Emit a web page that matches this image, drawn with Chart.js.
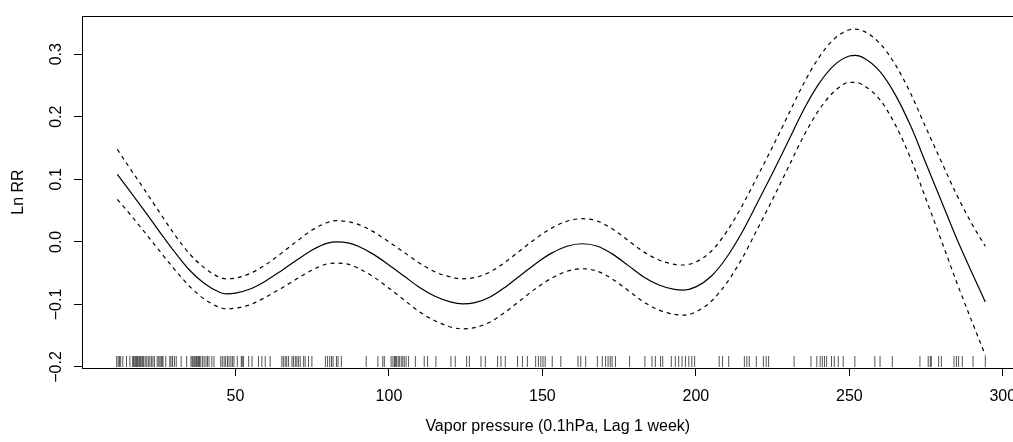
<!DOCTYPE html>
<html><head><meta charset="utf-8">
<script src="https://cdn.jsdelivr.net/npm/chart.js@4.4.1/dist/chart.umd.min.js"></script>
<style>
html,body{margin:0;padding:0;overflow:hidden;background:#fff;width:1013px;height:442px}
#wrap{width:1040px;height:442px}
</style></head>
<body><div id="wrap"><canvas id="c" width="1040" height="442"></canvas></div>
<script>
const xValues = [11.5,15,20,25,30,35,40,45,47,50,55,60,65,70,75,80,83,87,90,95,100,105,110,115,120,124,128,133,138,143,148,153,158,163,168,173,178,183,188,193,196,200,205,210,215,220,225,230,235,240,245,250,252,255,260,265,270,275,280,285,290,294.3];
const fitValues = [0.108,0.085,0.052,0.018,-0.015,-0.045,-0.067,-0.081,-0.083,-0.082,-0.075,-0.062,-0.046,-0.029,-0.013,-0.002,0.000,-0.002,-0.007,-0.020,-0.037,-0.055,-0.073,-0.087,-0.096,-0.099,-0.097,-0.088,-0.072,-0.053,-0.034,-0.018,-0.007,-0.003,-0.007,-0.020,-0.038,-0.056,-0.069,-0.076,-0.077,-0.072,-0.055,-0.025,0.015,0.062,0.110,0.160,0.210,0.252,0.282,0.297,0.298,0.293,0.272,0.235,0.185,0.125,0.065,0.005,-0.050,-0.096];
const upperValues = [0.148,0.122,0.086,0.049,0.013,-0.019,-0.042,-0.057,-0.059,-0.058,-0.050,-0.036,-0.018,0.001,0.019,0.031,0.034,0.032,0.028,0.016,0.000,-0.017,-0.034,-0.048,-0.056,-0.059,-0.057,-0.048,-0.032,-0.013,0.006,0.022,0.033,0.037,0.033,0.020,0.002,-0.016,-0.029,-0.036,-0.037,-0.032,-0.015,0.016,0.057,0.104,0.152,0.202,0.252,0.294,0.324,0.339,0.340,0.336,0.317,0.283,0.237,0.182,0.128,0.075,0.028,-0.007];
const lowerValues = [0.068,0.048,0.018,-0.013,-0.043,-0.071,-0.092,-0.105,-0.107,-0.106,-0.100,-0.088,-0.074,-0.059,-0.045,-0.035,-0.034,-0.036,-0.042,-0.056,-0.074,-0.093,-0.112,-0.126,-0.136,-0.139,-0.137,-0.128,-0.112,-0.093,-0.074,-0.058,-0.047,-0.043,-0.047,-0.060,-0.078,-0.096,-0.109,-0.116,-0.117,-0.112,-0.095,-0.066,-0.027,0.020,0.068,0.118,0.168,0.210,0.240,0.255,0.255,0.249,0.227,0.187,0.133,0.068,0.002,-0.065,-0.128,-0.181];
const rugValues = [11.3,11.8,12.2,12.6,13.3,14.5,15.6,16.5,16.8,17.2,17.5,17.8,18.1,18.5,18.8,19.1,19.5,19.8,20.1,20.6,21.1,21.6,22.1,22.6,23.1,23.6,24.5,25.0,25.4,25.8,26.1,26.4,27.3,28.6,29.0,29.5,30.1,30.7,32.3,34.1,35.5,35.9,36.2,36.6,36.9,37.3,37.7,38.0,38.3,38.7,39.3,39.8,40.4,40.9,41.4,42.3,43.0,45.2,45.7,46.3,46.8,47.4,47.9,48.5,49.0,49.5,50.6,51.9,52.2,52.6,54.3,55.4,57.5,58.6,59.7,61.3,65.1,65.6,66.2,66.7,67.3,68.4,68.9,69.5,70.0,70.5,71.1,72.2,72.7,73.8,74.9,79.3,80.0,80.7,81.3,81.8,82.9,83.4,84.5,92.6,96.4,98.0,98.5,100.7,101.3,101.8,102.1,102.5,103.0,103.4,104.0,104.5,105.0,105.6,106.4,108.6,111.5,112.6,115.3,120.2,121.6,125.3,126.2,130.0,131.4,135.4,136.5,137.9,141.9,143.5,145.1,147.8,148.7,149.5,150.2,150.9,153.2,156.0,161.6,162.5,164.1,167.9,169.5,170.6,171.4,172.1,172.7,173.8,178.4,183.4,185.7,186.8,188.5,189.2,192.0,193.3,194.4,195.5,196.6,197.7,198.7,199.6,207.6,208.7,210.7,215.8,216.6,217.4,219.7,222.0,222.9,223.7,232.0,237.5,239.4,240.5,241.2,241.9,242.6,244.2,245.1,246.4,248.0,251.8,258.3,260.0,264.0,273.0,275.7,276.4,276.7,279.1,280.0,284.1,284.9,285.6,286.8,290.3,294.3];
const xTicks = [50,100,150,200,250,300];
const yTicks = [-0.2,-0.1,0,0.1,0.2,0.3];
const yTickLabels = ['\u22120.2','\u22120.1','0.0','0.1','0.2','0.3'];

const FONT = {family:'"Liberation Sans", Arial, Helvetica, sans-serif', size:16};
const RUG_Y = -0.1912;

function pts(ys){ return xValues.map((x,i)=>({x:x, y:ys[i]})); }

const boxPlugin = {
  id:'box',
  afterDatasetsDraw(chart){
    const {ctx, chartArea:a} = chart;
    ctx.save();
    ctx.strokeStyle='#000'; ctx.lineWidth=1;
    ctx.strokeRect(Math.round(a.left)+0.5, Math.round(a.top)+0.5, Math.round(a.right-a.left), Math.round(a.bottom-a.top));
    ctx.restore();
  },
  afterDraw(chart){
    const {ctx} = chart; const ys = chart.scales.y;
    ctx.save();
    ctx.fillStyle='#000';
    ctx.font = FONT.size+'px '+FONT.family;
    ctx.textAlign='center'; ctx.textBaseline='alphabetic';
    yTicks.forEach((v,i)=>{
      const py = ys.getPixelForValue(v);
      ctx.save(); ctx.translate(61, py); ctx.rotate(-Math.PI/2);
      ctx.fillText(yTickLabels[i],0,0); ctx.restore();
    });
    ctx.restore();
  }
};

new Chart(document.getElementById('c'), {
  type:'line',
  data:{datasets:[
    {data:pts(fitValues), borderColor:'#000', borderWidth:1.2, pointRadius:0, cubicInterpolationMode:'monotone', fill:false},
    {data:pts(upperValues), borderColor:'#000', borderWidth:1.2, borderDash:[4,4], pointRadius:0, cubicInterpolationMode:'monotone', fill:false},
    {data:pts(lowerValues), borderColor:'#000', borderWidth:1.2, borderDash:[4,4], pointRadius:0, cubicInterpolationMode:'monotone', fill:false},
    {data:rugValues.map(x=>({x:x,y:RUG_Y})), showLine:false, pointStyle:'line', rotation:90, pointRadius:5.5, pointHoverRadius:5.5, borderColor:'rgba(0,0,0,0.68)', borderWidth:1}
  ]},
  options:{
    responsive:false, animation:false, devicePixelRatio:1,
    layout:{padding:{top:16, left:0, right:4, bottom:0}},
    plugins:{legend:{display:false}, tooltip:{enabled:false}},
    scales:{
      x:{type:'linear', min:0, max:310,
        afterBuildTicks:s=>{s.ticks = xTicks.map(v=>({value:v}));},
        afterFit:s=>{s.height=74;},
        ticks:{font:FONT, color:'#000', padding:11, maxRotation:0, autoSkip:false, callback:v=>String(v)},
        grid:{display:true, drawOnChartArea:false, drawTicks:true, tickLength:8, color:'#000', lineWidth:1},
        border:{display:false},
        title:{display:true, text:'Vapor pressure (0.1hPa, Lag 1 week)', font:FONT, color:'#000', padding:{top:0,bottom:6}}
      },
      y:{type:'linear', min:-0.2016, max:0.361,
        afterBuildTicks:s=>{s.ticks = yTicks.map(v=>({value:v}));},
        afterFit:s=>{s.width=82;},
        ticks:{display:false},
        grid:{display:true, drawOnChartArea:false, drawTicks:true, tickLength:8, color:'#000', lineWidth:1},
        border:{display:false},
        title:{display:true, text:'Ln RR', font:FONT, color:'#000', padding:{top:9,bottom:0}}
      }
    }
  },
  plugins:[boxPlugin]
});
</script>
</body></html>
